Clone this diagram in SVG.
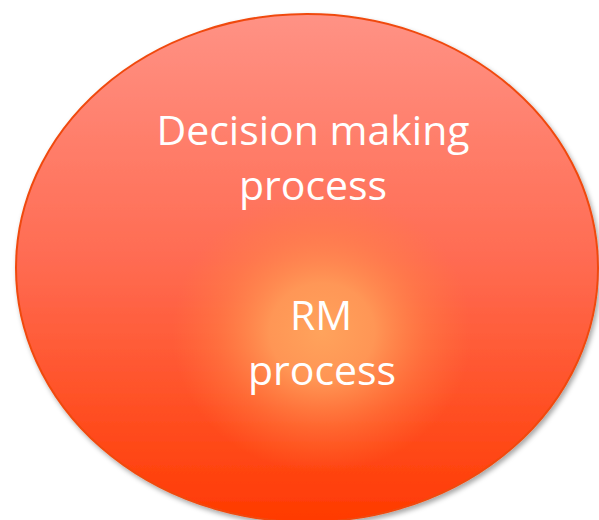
<svg xmlns="http://www.w3.org/2000/svg" width="599" height="520" viewBox="0 0 599 520">
<defs>
<linearGradient id="outerFill" x1="0" y1="0" x2="0" y2="1">
<stop offset="0" stop-color="#FF9285"/>
<stop offset="0.5" stop-color="#FF6A50"/>
<stop offset="1" stop-color="#FF3A00"/>
</linearGradient>
<radialGradient id="glow" cx="0.5" cy="0.5" r="0.5">
<stop offset="0" stop-color="#FFA35C" stop-opacity="1"/>
<stop offset="0.35" stop-color="#FF9C58" stop-opacity="0.9"/>
<stop offset="0.7" stop-color="#FF8A48" stop-opacity="0.4"/>
<stop offset="1" stop-color="#FF8040" stop-opacity="0"/>
</radialGradient>
<filter id="shadow" x="-10%" y="-10%" width="120%" height="120%">
<feDropShadow dx="2" dy="3" stdDeviation="2.5" flood-color="#000000" flood-opacity="0.35"/>
</filter>
</defs>
<style>
.lbl{font-family:"Open Sans","Noto Sans",sans-serif;font-size:41px;fill:#FFFFFF;text-anchor:middle}
</style>
<g id="decision-making">
<ellipse cx="307" cy="268" rx="291" ry="254" fill="url(#outerFill)" stroke="#F04A10" stroke-width="2" filter="url(#shadow)"/>
<text class="lbl" x="313" y="145">Decision making</text>
<text class="lbl" x="313" y="200">process</text>
</g>
<g id="rm-process">
<ellipse cx="322" cy="332" rx="150" ry="140" fill="url(#glow)"/>
<text class="lbl" x="321" y="330">RM</text>
<text class="lbl" x="322" y="385">process</text>
</g>
<g id="connectors"/>
</svg>
